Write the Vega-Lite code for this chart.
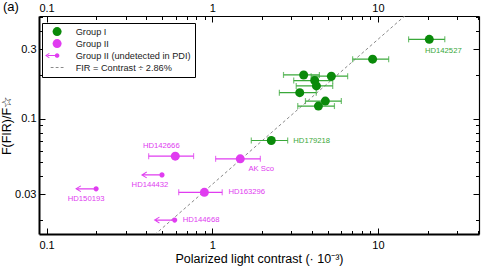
{
  "$schema": "https://vega.github.io/schema/vega-lite/v6.json",
  "width": 440,
  "height": 218,
  "autosize": "none",
  "padding": {"left": 39, "top": 16, "right": 12, "bottom": 34},
  "title": {"text": "(a)", "anchor": "start", "frame": "group", "orient": "top", "fontSize": 13, "fontWeight": "normal", "font": "Liberation Sans", "color": "black", "dx": -36, "dy": 11, "offset": 0},
  "config": {
    "view": {"stroke": null},
    "axis": {"labelFont": "Liberation Sans", "titleFont": "Liberation Sans", "labelColor": "black", "titleColor": "black", "tickColor": "black", "domainColor": "black", "grid": false, "labelFontSize": 11, "titleFontSize": 12.5, "titleFontWeight": "normal", "labelOverlap": false, "labelFlush": false, "tickWidth": 1},
    "legend": {"title": null, "orient": "none", "legendX": 3, "legendY": 7, "padding": 4, "strokeColor": "black", "fillColor": "white", "cornerRadius": 0,
      "labelFont": "Liberation Sans", "labelFontSize": 9.2, "labelColor": "#222222", "symbolOffset": 6.5, "labelOffset": 14, "rowPadding": 2, "symbolStrokeWidth": 0}
  },
  "datasets": {
    "stars": [
      {"name": "HD142527", "grp": "Group I", "x": 20.4, "y": 0.352, "lo": 15.3, "hi": 25.3},
      {"name": "", "grp": "Group I", "x": 9.28, "y": 0.257, "lo": 7.03, "hi": 11.6},
      {"name": "", "grp": "Group I", "x": 3.56, "y": 0.200, "lo": 2.69, "hi": 4.43},
      {"name": "", "grp": "Group I", "x": 5.23, "y": 0.196, "lo": 3.95, "hi": 6.56},
      {"name": "", "grp": "Group I", "x": 4.15, "y": 0.183, "lo": 3.10, "hi": 5.33},
      {"name": "", "grp": "Group I", "x": 4.25, "y": 0.168, "lo": 3.21, "hi": 5.33},
      {"name": "", "grp": "Group I", "x": 3.37, "y": 0.151, "lo": 2.54, "hi": 4.24},
      {"name": "", "grp": "Group I", "x": 4.81, "y": 0.132, "lo": 3.65, "hi": 6.01},
      {"name": "", "grp": "Group I", "x": 4.37, "y": 0.122, "lo": 3.28, "hi": 5.46},
      {"name": "HD179218", "grp": "Group I", "x": 2.27, "y": 0.0706, "lo": 1.72, "hi": 2.85},
      {"name": "HD142666", "grp": "Group II", "x": 0.598, "y": 0.0551, "lo": 0.413, "hi": 0.771},
      {"name": "AK Sco", "grp": "Group II", "x": 1.475, "y": 0.0528, "lo": 1.047, "hi": 1.95},
      {"name": "HD163296", "grp": "Group II", "x": 0.896, "y": 0.031, "lo": 0.627, "hi": 1.148},
      {"name": "HD144432", "grp": "Group II (undetected in PDI)", "x": 0.497, "y": 0.0409},
      {"name": "HD150193", "grp": "Group II (undetected in PDI)", "x": 0.199, "y": 0.0328},
      {"name": "HD144668", "grp": "Group II (undetected in PDI)", "x": 0.593, "y": 0.01995}
    ],
    "fir": [
      {"x": 0.4, "y": 0.01408},
      {"x": 16, "y": 0.5632}
    ]
  },
  "resolve": {"axis": {"x": "independent", "y": "independent"}},
  "layer": [
    {
      "data": {"name": "fir"},
      "mark": {"type": "line", "color": "#8a8a8a", "strokeDash": [3, 2.5], "strokeWidth": 1, "clip": true},
      "encoding": {
        "x": {"field": "x", "type": "quantitative",
          "scale": {"type": "log", "domain": [0.09, 40.7], "nice": false},
          "axis": {"orient": "bottom", "values": [0.1, 1, 10], "format": "~g", "ticks": false,
            "labelPadding": 5.5, "domainWidth": 2,
            "title": "Polarized light contrast (· 10⁻³)", "titlePadding": 2}},
        "y": {"field": "y", "type": "quantitative",
          "scale": {"type": "log", "domain": [0.016, 0.51], "nice": false},
          "axis": {"orient": "left", "values": [0.03, 0.1, 0.3], "format": "~g", "ticks": false,
            "labelPadding": 3, "domainWidth": 2,
            "title": "F(FIR)/F☆", "titlePadding": 1.5}}
      }
    },
    {
      "data": {"name": "stars"},
      "transform": [{"filter": "datum.grp === 'Group I'"}],
      "mark": {"type": "errorbar", "ticks": {"size": 6, "color": "#3aa83a"}, "rule": {"color": "#3aa83a"}, "color": "#3aa83a", "thickness": 1.2},
      "encoding": {
        "x": {"field": "lo", "type": "quantitative",
          "axis": {"orient": "bottom", "values": [0.1,0.2,0.3,0.4,0.5,0.6,0.7,0.8,0.9,1,2,3,4,5,6,7,8,9,10,20,30,40], "labels": false, "domain": false,
            "tickSize": {"condition": {"test": "datum.value==0.1||datum.value==1||datum.value==10", "value": -6}, "value": -3.5}, "title": null}},
        "x2": {"field": "hi"},
        "y": {"field": "y", "type": "quantitative",
          "axis": {"orient": "left", "values": [0.02,0.03,0.04,0.05,0.06,0.07,0.08,0.09,0.1,0.2,0.3,0.4,0.5], "labels": false, "domain": false,
            "tickSize": {"condition": {"test": "datum.value==0.03||datum.value==0.1||datum.value==0.3", "value": -6}, "value": -3.5}, "title": null}}
      }
    },
    {
      "data": {"name": "stars"},
      "transform": [{"filter": "datum.grp === 'Group II'"}],
      "mark": {"type": "errorbar", "ticks": {"size": 6, "color": "#e03cf0"}, "rule": {"color": "#e03cf0"}, "color": "#e03cf0", "thickness": 1.2},
      "encoding": {
        "x": {"field": "lo", "type": "quantitative",
          "axis": {"orient": "top", "values": [0.1,0.2,0.3,0.4,0.5,0.6,0.7,0.8,0.9,1,2,3,4,5,6,7,8,9,10,20,30,40], "labels": false, "domain": false,
            "tickSize": {"condition": {"test": "datum.value==0.1||datum.value==1||datum.value==10", "value": -6}, "value": -3.5}, "title": null}},
        "x2": {"field": "hi"},
        "y": {"field": "y", "type": "quantitative",
          "axis": {"orient": "right", "values": [0.02,0.03,0.04,0.05,0.06,0.07,0.08,0.09,0.1,0.2,0.3,0.4,0.5], "labels": false, "domainWidth": 1.2,
            "tickSize": {"condition": {"test": "datum.value==0.03||datum.value==0.1||datum.value==0.3", "value": -6}, "value": -3.5}, "title": null}}
      }
    },
    {
      "data": {"name": "stars"},
      "transform": [{"filter": "datum.grp === 'Group II (undetected in PDI)'"}],
      "mark": {"type": "point", "filled": true, "opacity": 1, "color": "#e03cf0", "size": 4,
        "shape": "M2.6,0A2.6,2.6,0,1,1,-2.6,0A2.6,2.6,0,1,1,2.6,0Z M-2.5,-0.6H-18.6V0.6H-2.5Z M-21,0L-15.5,-3.3L-15,-2.5L-19.2,0L-15,2.5L-15.5,3.3Z"},
      "encoding": {
        "x": {"field": "x", "type": "quantitative", "axis": null},
        "y": {"field": "y", "type": "quantitative", "axis": null}
      }
    },
    {
      "data": {"name": "stars"},
      "transform": [{"filter": "datum.grp !== 'Group II (undetected in PDI)'"}],
      "mark": {"type": "point", "filled": true, "opacity": 1},
      "encoding": {
        "x": {"field": "x", "type": "quantitative",
          "axis": {"orient": "top", "values": [0.1, 1, 10], "format": "~g", "ticks": false,
            "labelPadding": 2.5, "domainWidth": 1.2, "title": null}},
        "y": {"field": "y", "type": "quantitative", "axis": null},
        "color": {"field": "grp", "type": "nominal",
          "scale": {"domain": ["Group I", "Group II", "Group II (undetected in PDI)", "FIR = Contrast ÷ 2.86%"], "range": ["#0a8a0a", "#e03cf0", "#e03cf0", "#8a8a8a"]}},
        "shape": {"field": "grp", "type": "nominal",
          "scale": {"domain": ["Group I", "Group II", "Group II (undetected in PDI)", "FIR = Contrast ÷ 2.86%"],
            "range": ["circle", "circle", "M2.3,0A2.3,2.3,0,1,1,-2.3,0A2.3,2.3,0,1,1,2.3,0Z M-2.2,-0.5H-9.5V0.5H-2.2Z M-12,0L-8,-2.6L-7.5,-1.9L-10.3,0L-7.5,1.9L-8,2.6Z", "M-1.6,-0.12H-0.9V0.12H-1.6Z M-0.35,-0.12H0.35V0.12H-0.35Z M0.9,-0.12H1.6V0.12H0.9Z"]}},
        "size": {"field": "grp", "type": "nominal",
          "scale": {"type": "ordinal", "domain": ["Group I", "Group II", "Group II (undetected in PDI)", "FIR = Contrast ÷ 2.86%"], "range": [81, 81, 4, 64]}}
      }
    },
    {"data": {"name": "stars"}, "transform": [{"filter": "datum.name === 'HD142527'"}],
      "mark": {"type": "text", "dx": 14, "dy": 12, "align": "center", "baseline": "middle", "fontSize": 7.7, "font": "Liberation Sans", "color": "#3aa83a"},
      "encoding": {"x": {"field": "x", "type": "quantitative", "axis": null}, "y": {"field": "y", "type": "quantitative", "axis": null}, "text": {"field": "name"}}},
    {"data": {"name": "stars"}, "transform": [{"filter": "datum.name === 'HD179218'"}],
      "mark": {"type": "text", "dx": 22, "dy": 0.5, "align": "left", "baseline": "middle", "fontSize": 7.7, "font": "Liberation Sans", "color": "#3aa83a"},
      "encoding": {"x": {"field": "x", "type": "quantitative", "axis": null}, "y": {"field": "y", "type": "quantitative", "axis": null}, "text": {"field": "name"}}},
    {"data": {"name": "stars"}, "transform": [{"filter": "datum.name === 'HD142666'"}],
      "mark": {"type": "text", "dx": -14, "dy": -10, "align": "center", "baseline": "middle", "fontSize": 7.7, "font": "Liberation Sans", "color": "#e03cf0"},
      "encoding": {"x": {"field": "x", "type": "quantitative", "axis": null}, "y": {"field": "y", "type": "quantitative", "axis": null}, "text": {"field": "name"}}},
    {"data": {"name": "stars"}, "transform": [{"filter": "datum.name === 'AK Sco'"}],
      "mark": {"type": "text", "dx": 21, "dy": 10, "align": "center", "baseline": "middle", "fontSize": 7.7, "font": "Liberation Sans", "color": "#e03cf0"},
      "encoding": {"x": {"field": "x", "type": "quantitative", "axis": null}, "y": {"field": "y", "type": "quantitative", "axis": null}, "text": {"field": "name"}}},
    {"data": {"name": "stars"}, "transform": [{"filter": "datum.name === 'HD163296'"}],
      "mark": {"type": "text", "dx": 24, "dy": 0, "align": "left", "baseline": "middle", "fontSize": 7.7, "font": "Liberation Sans", "color": "#e03cf0"},
      "encoding": {"x": {"field": "x", "type": "quantitative", "axis": null}, "y": {"field": "y", "type": "quantitative", "axis": null}, "text": {"field": "name"}}},
    {"data": {"name": "stars"}, "transform": [{"filter": "datum.name === 'HD144432'"}],
      "mark": {"type": "text", "dx": -12, "dy": 10, "align": "center", "baseline": "middle", "fontSize": 7.7, "font": "Liberation Sans", "color": "#e03cf0"},
      "encoding": {"x": {"field": "x", "type": "quantitative", "axis": null}, "y": {"field": "y", "type": "quantitative", "axis": null}, "text": {"field": "name"}}},
    {"data": {"name": "stars"}, "transform": [{"filter": "datum.name === 'HD150193'"}],
      "mark": {"type": "text", "dx": -10, "dy": 10, "align": "center", "baseline": "middle", "fontSize": 7.7, "font": "Liberation Sans", "color": "#e03cf0"},
      "encoding": {"x": {"field": "x", "type": "quantitative", "axis": null}, "y": {"field": "y", "type": "quantitative", "axis": null}, "text": {"field": "name"}}},
    {"data": {"name": "stars"}, "transform": [{"filter": "datum.name === 'HD144668'"}],
      "mark": {"type": "text", "dx": 8, "dy": 0, "align": "left", "baseline": "middle", "fontSize": 7.7, "font": "Liberation Sans", "color": "#e03cf0"},
      "encoding": {"x": {"field": "x", "type": "quantitative", "axis": null}, "y": {"field": "y", "type": "quantitative", "axis": null}, "text": {"field": "name"}}}
  ]
}
